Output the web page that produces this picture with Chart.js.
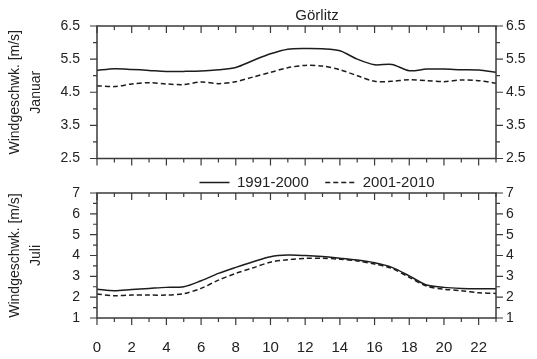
<!DOCTYPE html>
<html><head><meta charset="utf-8">
<script src="https://cdn.jsdelivr.net/npm/chart.js@4/dist/chart.umd.min.js"></script>
<style>
html,body{margin:0;padding:0;background:#fff;overflow:hidden;}
#wrap{position:relative;width:537px;height:359px;overflow:hidden;background:#fff;}
canvas{position:absolute;left:0;top:0;}
</style></head><body>
<div id="wrap"><canvas id="c1" width="634" height="359"></canvas><canvas id="c2" width="634" height="359"></canvas></div>
<script>
// ---- data ----
const hours = [0,1,2,3,4,5,6,7,8,9,10,11,12,13,14,15,16,17,18,19,20,21,22,23];
const xTickLabels = [0,2,4,6,8,10,12,14,16,18,20,22];
const janTicks = [2.5,3.5,4.5,5.5,6.5];
const janMinor = [3,4,5,6];
const julTicks = [1,2,3,4,5,6,7];
const julMinor = [1.5,2.5,3.5,4.5,5.5,6.5];
const seriesNames = ['1991-2000','2001-2010'];
const station = 'Görlitz';
const yTitleJan = ['Windgeschwk. [m/s]','Januar'];
const yTitleJul = ['Windgeschwk. [m/s]','Juli'];
const jan9100 = [5.16,5.21,5.19,5.16,5.13,5.13,5.14,5.18,5.25,5.46,5.66,5.80,5.82,5.81,5.75,5.50,5.33,5.34,5.15,5.20,5.20,5.18,5.17,5.10];
const jan0110 = [4.70,4.67,4.75,4.79,4.75,4.73,4.81,4.76,4.82,4.96,5.10,5.24,5.31,5.29,5.18,5.00,4.83,4.83,4.88,4.85,4.82,4.87,4.85,4.77];
const jul9100 = [2.38,2.31,2.37,2.42,2.47,2.50,2.79,3.14,3.43,3.70,3.94,4.02,4.00,3.95,3.87,3.78,3.65,3.43,3.02,2.58,2.47,2.42,2.40,2.40];
const jul0110 = [2.15,2.07,2.10,2.10,2.10,2.17,2.42,2.82,3.14,3.41,3.68,3.80,3.86,3.87,3.82,3.74,3.59,3.38,2.95,2.53,2.38,2.31,2.21,2.18];

Chart.defaults.font.family = "'Liberation Sans', Arial, sans-serif";
Chart.defaults.color = '#222';
const TXT = '#222';
const LINE = '#1c1c1c';

const frame = {
  id: 'frame',
  afterDraw(chart, args, opts) {
    const {ctx, chartArea: a, scales} = chart;
    const x = scales.x, y = scales.y;
    ctx.save();
    ctx.strokeStyle = '#3a3a3a';
    ctx.lineWidth = 1.5;
    ctx.strokeRect(a.left, a.top, a.right - a.left, a.bottom - a.top);
    ctx.lineWidth = 1.2;
    ctx.beginPath();
    hours.forEach(h => {
      const px = x.getPixelForValue(h);
      const L = h % 2 === 0 ? 7 : 4;
      ctx.moveTo(px, a.top); ctx.lineTo(px, a.top + L);
      ctx.moveTo(px, a.bottom); ctx.lineTo(px, a.bottom + L);
    });
    const yt = y.ticks.map(t => [t.value, 7]).concat((opts.minor || []).map(v => [v, 4]));
    yt.forEach(([v, L]) => {
      const py = y.getPixelForValue(v);
      ctx.moveTo(a.left, py); ctx.lineTo(a.left - L, py);
      ctx.moveTo(a.right, py); ctx.lineTo(a.right + L, py);
    });
    ctx.stroke();
    ctx.restore();
  }
};

function dsets(a, b) {
  return [
    {label: seriesNames[0], data: a, borderColor: LINE, backgroundColor: 'transparent', borderWidth: 1.5, pointRadius: 0, tension: 0.3, fill: false},
    {label: seriesNames[1], data: b, borderColor: LINE, backgroundColor: 'transparent', borderWidth: 1.5, borderDash: [5, 3], pointRadius: 0, tension: 0.3, fill: false}
  ];
}

function yAxes(min, max, ticksArr, title, fmt, canvasW) {
  return {
    y: {
      position: 'left', min, max,
      afterBuildTicks: s => { s.ticks = ticksArr.map(v => ({value: v})); },
      afterFit: s => { s.width = 97; },
      grid: {display: false, drawTicks: false}, border: {display: false},
      ticks: {padding: 17, color: TXT, font: {size: 14}, callback: fmt},
      title: {display: true, text: title, color: TXT, font: {size: 14, lineHeight: 1.5}, padding: {top: 4.5, bottom: 0}}
    },
    y2: {
      position: 'right', min, max,
      afterBuildTicks: s => { s.ticks = ticksArr.map(v => ({value: v})); },
      afterFit: s => { s.width = canvasW - 496; },
      grid: {display: false, drawTicks: false}, border: {display: false},
      ticks: {padding: 10, color: TXT, font: {size: 14}, callback: fmt}
    }
  };
}

const W = 634;
new Chart(document.getElementById('c1'), {
  type: 'line',
  data: {labels: hours, datasets: dsets(jan9100, jan0110)},
  options: {
    responsive: false, animation: false,
    layout: {padding: {top: 0, left: 0, right: 0, bottom: 159}},
    plugins: {
      title: {display: true, text: station, color: TXT, font: {size: 15, weight: 'normal'}, padding: {top: 7, bottom: 1}},
      legend: {display: true, position: 'bottom',
        labels: {usePointStyle: true, pointStyle: 'line', pointStyleWidth: 30, padding: 16.5, color: TXT, font: {size: 15},
          generateLabels: chart => {
            const items = Chart.defaults.plugins.legend.labels.generateLabels(chart);
            items.forEach(it => {
              const ds = chart.data.datasets[it.datasetIndex];
              it.lineDash = ds.borderDash || [];
              it.lineWidth = ds.borderWidth;
              it.strokeStyle = ds.borderColor;
              it.pointStyle = 'line';
            });
            return items;
          }}},
      tooltip: {enabled: false},
      frame: {minor: janMinor}
    },
    scales: Object.assign({
      x: {type: 'linear', min: 0, max: 23, display: false}
    }, yAxes(2.5, 6.5, janTicks, yTitleJan, v => Number(v).toFixed(1), W))
  },
  plugins: [frame]
});

new Chart(document.getElementById('c2'), {
  type: 'line',
  data: {labels: hours, datasets: dsets(jul9100, jul0110)},
  options: {
    responsive: false, animation: false,
    layout: {padding: {top: 193, left: 0, right: 0, bottom: 1}},
    plugins: {
      title: {display: false}, legend: {display: false}, tooltip: {enabled: false},
      frame: {minor: julMinor}
    },
    scales: Object.assign({
      x: {type: 'linear', min: 0, max: 23,
        afterBuildTicks: s => { s.ticks = xTickLabels.map(v => ({value: v})); },
        afterFit: s => { s.height = 40; },
        grid: {display: false, drawTicks: false}, border: {display: false},
        ticks: {padding: 21, color: TXT, font: {size: 15}, maxRotation: 0, autoSkip: false, callback: v => String(v)}
      }
    }, yAxes(1, 7, julTicks, yTitleJul, v => String(v), W))
  },
  plugins: [frame]
});
</script>
</body></html>
